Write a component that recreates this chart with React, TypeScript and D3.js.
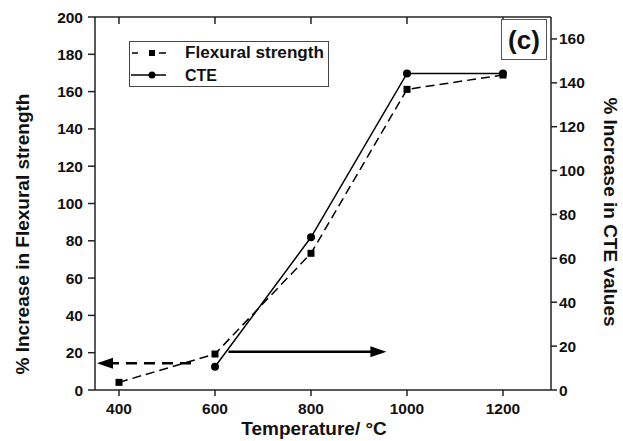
import React from "react";
import * as d3 from "d3";

const temperatures = [400, 600, 800, 1000, 1200];
const flexuralIncrease = [4.1, 19.3, 73.3, 161.2, 168.9];
const cteTemps = [600, 800, 1000, 1200];
const cteIncrease = [10.6, 69.6, 144.3, 144.3];
const xTicks = [400, 600, 800, 1000, 1200];
const leftTicks = [0, 20, 40, 60, 80, 100, 120, 140, 160, 180, 200];
const rightTicks = [0, 20, 40, 60, 80, 100, 120, 140, 160];
// arrow annotations: [fromTemp, toTemp, leftAxisValue]
const leftArrow = [550, 350, 14.3];
const rightArrow = [628, 957, 20.5];

const W = 623;
const H = 441;
const L = 95, R = 551, T = 17, B = 390;
const FONT = "'Liberation Sans', Arial, sans-serif";

export default function App() {
  const x = d3.scaleLinear().domain([350, 1300]).range([L, R]);
  const yL = d3.scaleLinear().domain([0, 200]).range([B, T]);
  const yR = d3.scaleLinear().domain([0, 170]).range([B, T]);

  const flexLine = d3.line<number>()
    .x((_, i) => x(temperatures[i]))
    .y((d) => yL(d));
  const cteLine = d3.line<number>()
    .x((_, i) => x(cteTemps[i]))
    .y((d) => yR(d));

  const axisColor = "#222";
  const sq = 7;
  const tickFs = 15.5;

  const arrowHead = (tipX: number, y: number, dir: number) => {
    const len = 16, half = 5.5;
    return `M${tipX},${y} L${tipX - dir * len},${y - half} L${tipX - dir * len},${y + half} Z`;
  };

  const la = { x1: x(leftArrow[0]), x2: x(leftArrow[1]) + 2, y: yL(leftArrow[2]) };
  const ra = { x1: x(rightArrow[0]), x2: x(rightArrow[1]), y: yL(rightArrow[2]) };

  return (
    <svg width={W} height={H} style={{ position: "absolute", left: 0, top: 0, background: "#fff" }}
      fontFamily={FONT} fontWeight="bold">
      <rect width={W} height={H} fill="#fff" />
      {/* axes */}
      <line x1={L} y1={T} x2={L} y2={B} stroke={axisColor} strokeWidth={1.5} />
      <line x1={R} y1={T} x2={R} y2={B} stroke={axisColor} strokeWidth={1.5} />
      <line x1={L} y1={B} x2={R} y2={B} stroke={axisColor} strokeWidth={1.5} />
      <line x1={L} y1={T} x2={R} y2={T} stroke={axisColor} strokeWidth={1.5} />
      {xTicks.map((t) => (
        <g key={"x" + t}>
          <line x1={x(t)} x2={x(t)} y1={B} y2={B + 6} stroke={axisColor} strokeWidth={1.5} />
          <line x1={x(t)} x2={x(t)} y1={T} y2={T + 7} stroke={axisColor} strokeWidth={1.5} />
          <text x={x(t)} y={413.5} textAnchor="middle" fontSize={tickFs} fill="#111">{t}</text>
        </g>
      ))}
      {leftTicks.map((t) => (
        <g key={"l" + t}>
          <line x1={L - 7} x2={L} y1={yL(t)} y2={yL(t)} stroke={axisColor} strokeWidth={1.5} />
          <text x={L - 12} y={yL(t) + 5.5} textAnchor="end" fontSize={tickFs} fill="#111">{t}</text>
        </g>
      ))}
      {rightTicks.map((t) => (
        <g key={"r" + t}>
          <line x1={R} x2={R + 6} y1={yR(t)} y2={yR(t)} stroke={axisColor} strokeWidth={1.5} />
          <text x={R + 8} y={yR(t) + 5.5} textAnchor="start" fontSize={tickFs} fill="#111">{t}</text>
        </g>
      ))}
      {/* axis titles */}
      <text x={314} y={435} textAnchor="middle" fontSize={19} fill="#111">Temperature/ °C</text>
      <text transform={`translate(29,234) rotate(-90)`} textAnchor="middle" fontSize={19} fill="#111">% Increase in Flexural strength</text>
      <text transform={`translate(604,212) rotate(90)`} textAnchor="middle" fontSize={19} fill="#111">% Increase in CTE values</text>

      {/* data lines */}
      <path d={flexLine(flexuralIncrease) || ""} fill="none" stroke="#000" strokeWidth={1.5} strokeDasharray="9,5" />
      <path d={cteLine(cteIncrease) || ""} fill="none" stroke="#000" strokeWidth={1.5} />
      {flexuralIncrease.map((v, i) => (
        <rect key={"s" + i} x={x(temperatures[i]) - sq / 2} y={yL(v) - sq / 2} width={sq} height={sq} fill="#000" />
      ))}
      {cteIncrease.map((v, i) => (
        <circle key={"c" + i} cx={x(cteTemps[i])} cy={yR(v)} r={4} fill="#000" />
      ))}

      {/* arrows */}
      <line x1={la.x1} x2={la.x2 + 14} y1={la.y} y2={la.y} stroke="#000" strokeWidth={2.5} strokeDasharray="11,7" />
      <path d={arrowHead(la.x2, la.y, -1)} fill="#000" />
      <line x1={ra.x1} x2={ra.x2 - 12} y1={ra.y} y2={ra.y} stroke="#000" strokeWidth={2.5} />
      <path d={arrowHead(ra.x2, ra.y, 1)} fill="#000" />

      {/* legend */}
      <rect x={129.5} y={41.5} width={199} height={45} fill="#fff" stroke="#444" strokeWidth={1} />
      <line x1={132} x2={138} y1={53} y2={53} stroke="#000" strokeWidth={1.5} />
      <line x1={159} x2={166} y1={53} y2={53} stroke="#000" strokeWidth={1.5} />
      <rect x={152 - 3} y={53 - 3} width={6} height={6} fill="#000" />
      <text x={185} y={58} fontSize={16} fill="#111" textLength={139} lengthAdjust="spacingAndGlyphs">Flexural strength</text>
      <line x1={131} x2={166} y1={75} y2={75} stroke="#000" strokeWidth={1.5} />
      <circle cx={152} cy={75} r={3.5} fill="#000" />
      <text x={185} y={81} fontSize={16} fill="#111">CTE</text>

      {/* panel label */}
      <rect x={501.5} y={19.5} width={45} height={40} fill="#fff" stroke="#555" strokeWidth={1} />
      <text x={524} y={49} textAnchor="middle" fontSize={26} fill="#111">(c)</text>
    </svg>
  );
}
